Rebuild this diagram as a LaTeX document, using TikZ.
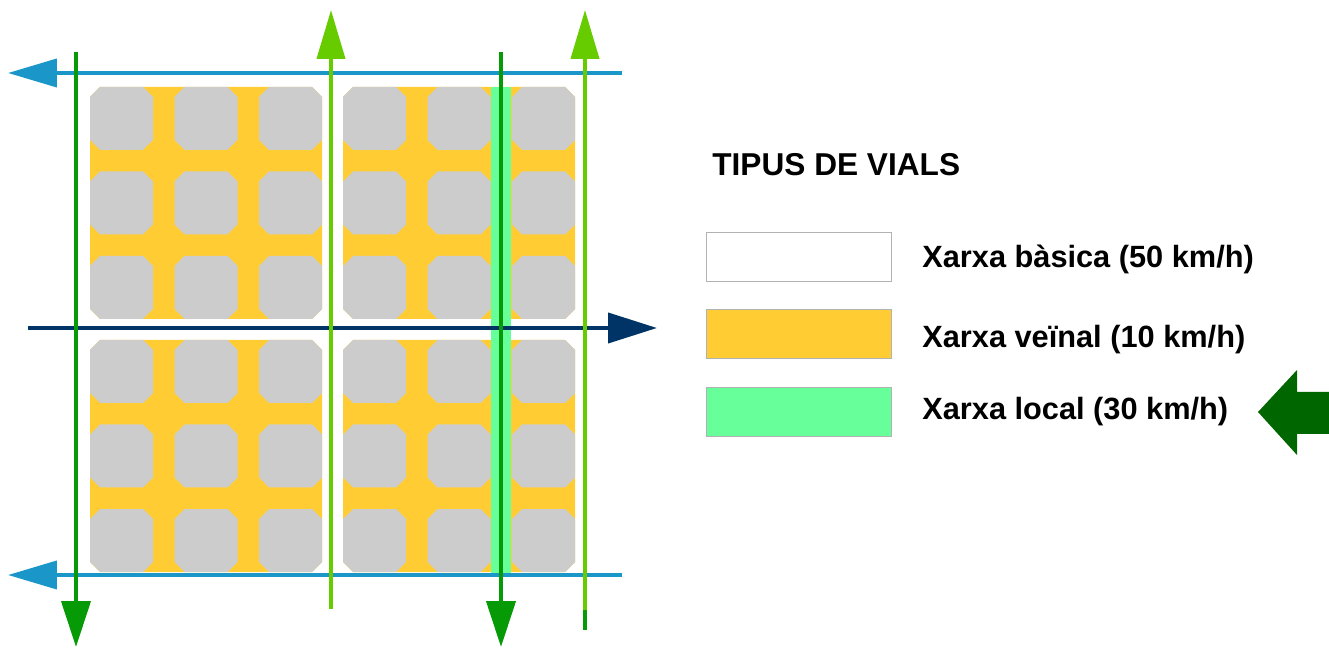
\documentclass[tikz,border=0pt]{standalone}
\usepackage{fontspec}
\setmainfont{Liberation Sans}
\usetikzlibrary{arrows.meta}

\definecolor{veinal}{HTML}{FFCC33}
\definecolor{illa}{HTML}{CCCCCC}
\definecolor{local}{HTML}{66FF99}
\definecolor{blau}{HTML}{1A96C8}
\definecolor{marino}{HTML}{003366}
\definecolor{verdfosc}{HTML}{069A06}
\definecolor{verdclar}{HTML}{66CC00}
\definecolor{fletxa}{HTML}{006600}

% chamfered square: x, y (top left), size, colour
\newcommand{\octa}[4]{\fill[#4] (#1+10,#2) -- (#1+#3-10,#2) -- (#1+#3,#2+10) -- (#1+#3,#2+#3-10) -- (#1+#3-10,#2+#3) -- (#1+10,#2+#3) -- (#1,#2+#3-10) -- (#1,#2+10) -- cycle;}

\begin{document}
\begin{tikzpicture}[x=0.02cm,y=-0.02cm]
    \tikzstyle{via} = [line width=0.08cm]
    \tikzstyle{tipblau} = [-{Triangle[length=0.98cm,width=0.56cm]}]
    \tikzstyle{tipverd} = [-{Triangle[length=0.92cm,width=0.58cm]}]
    \tikzstyle{legbox} = [draw=gray!60, minimum width=3.7cm, minimum height=0.98cm, inner sep=0pt]
    \tikzstyle{legtext} = [anchor=base west, inner sep=0pt, font=\fontsize{17.5}{20}\selectfont\bfseries]
    \useasboundingbox (0,0) rectangle (1329,648);

    % Blocks (veinal network and houses)
    \foreach \bx in {90,343} {
      \foreach \by in {87,340} {
        \octa{\bx}{\by}{232}{veinal}
        \foreach \i in {0,1,2} {
          \foreach \j in {0,1,2} {
            \octa{\bx+\i*84.5}{\by+\j*84.5}{63}{illa}
          }
        }
      }
    }

    % Local network strip
    \fill[local] (491,87) rectangle (511,577);

    % Horizontal streets
    \draw [via, blau, tipblau] (622,73) -- (8,73);
    \draw [via, blau, tipblau] (622,575) -- (8,575);
    \draw [via, marino, -{Triangle[length=0.98cm,width=0.6cm]}] (28,328) -- (657,328);

    % Vertical streets, going down
    \draw [via, verdfosc, tipverd] (76,52) -- (76,647);
    \draw [via, verdfosc, tipverd] (501,52) -- (501,647);

    % Vertical streets, going up
    \draw [via, verdclar, tipblau] (331,609) -- (331,10);
    \draw [via, verdclar, tipblau] (585,610) -- (585,10);
    \draw [via, verdfosc] (585,610) -- (585,630);

    % Legend
    \node [anchor=base west, inner sep=0pt, font=\fontsize{18}{20}\selectfont\bfseries] (Title) at (712,176) {TIPUS DE VIALS};

    \node [legbox, fill=white] (Basica) at (798.5,257) {};
    \node [legtext] (BasicaText) at (922,268) {Xarxa bàsica (50 km/h)};

    \node [legbox, fill=veinal] (Veinal) at (798.5,334) {};
    \node [legtext] (VeinalText) at (922,348) {Xarxa veïnal (10 km/h)};

    \node [legbox, fill=local] (Local) at (798.5,412) {};
    \node [legtext] (LocalText) at (922,420) {Xarxa local (30 km/h)};

    % Pointer to local network
    \fill [fletxa] (1258,412) -- (1297,370) -- (1297,392) -- (1329,392) -- (1329,434) -- (1297,434) -- (1297,455) -- cycle;
\end{tikzpicture}
\end{document}
